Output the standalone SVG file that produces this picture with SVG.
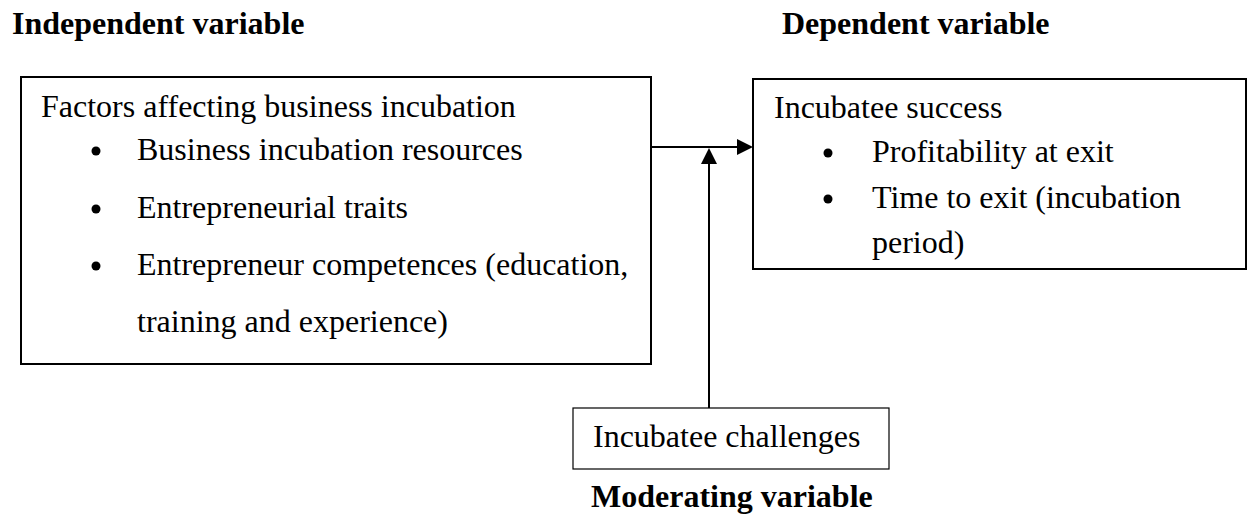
<svg xmlns="http://www.w3.org/2000/svg" width="1248" height="514" viewBox="0 0 1248 514">
<style>
text{font-family:"Liberation Serif","Times New Roman",serif;font-size:32px;fill:#000}
.h{font-weight:bold}
.box{fill:#fff;stroke:#000;stroke-width:2}
.thin{fill:#fff;stroke:#000;stroke-width:1.2}
.ln{stroke:#000;stroke-width:2;fill:none}
.bul{fill:#000}
</style>
<rect width="1248" height="514" fill="#fff"/>
<g id="labels">
<text class="h" x="12" y="34">Independent variable</text>
<text class="h" x="782" y="34">Dependent variable</text>
<text class="h" x="591" y="507">Moderating variable</text>
</g>
<g id="node-independent">
<rect class="box" x="21" y="77" width="630" height="287"/>
<text x="41" y="117">Factors affecting business incubation</text>
<circle class="bul" cx="96" cy="151" r="4.5"/>
<text x="137" y="160">Business incubation resources</text>
<circle class="bul" cx="96" cy="209" r="4.5"/>
<text x="137" y="218">Entrepreneurial traits</text>
<circle class="bul" cx="96" cy="266" r="4.5"/>
<text x="137" y="275">Entrepreneur competences (education,</text>
<text x="137" y="332">training and experience)</text>
</g>
<g id="node-dependent">
<rect class="box" x="753" y="79" width="493" height="190"/>
<text x="774" y="118">Incubatee success</text>
<circle class="bul" cx="828" cy="153" r="4.5"/>
<text x="872" y="162">Profitability at exit</text>
<circle class="bul" cx="828" cy="199" r="4.5"/>
<text x="872" y="208">Time to exit (incubation</text>
<text x="872" y="253">period)</text>
</g>
<g id="node-moderating">
<rect class="thin" x="573" y="408" width="316" height="61"/>
<text x="593" y="447">Incubatee challenges</text>
</g>
<g id="connectors">
<line class="ln" x1="651" y1="147" x2="738" y2="147"/>
<polygon points="737,139 753,147 737,155" fill="#000"/>
<line class="ln" x1="709" y1="408" x2="709" y2="162"/>
<polygon points="701,164 709,148 717,164" fill="#000"/>
</g>
</svg>
